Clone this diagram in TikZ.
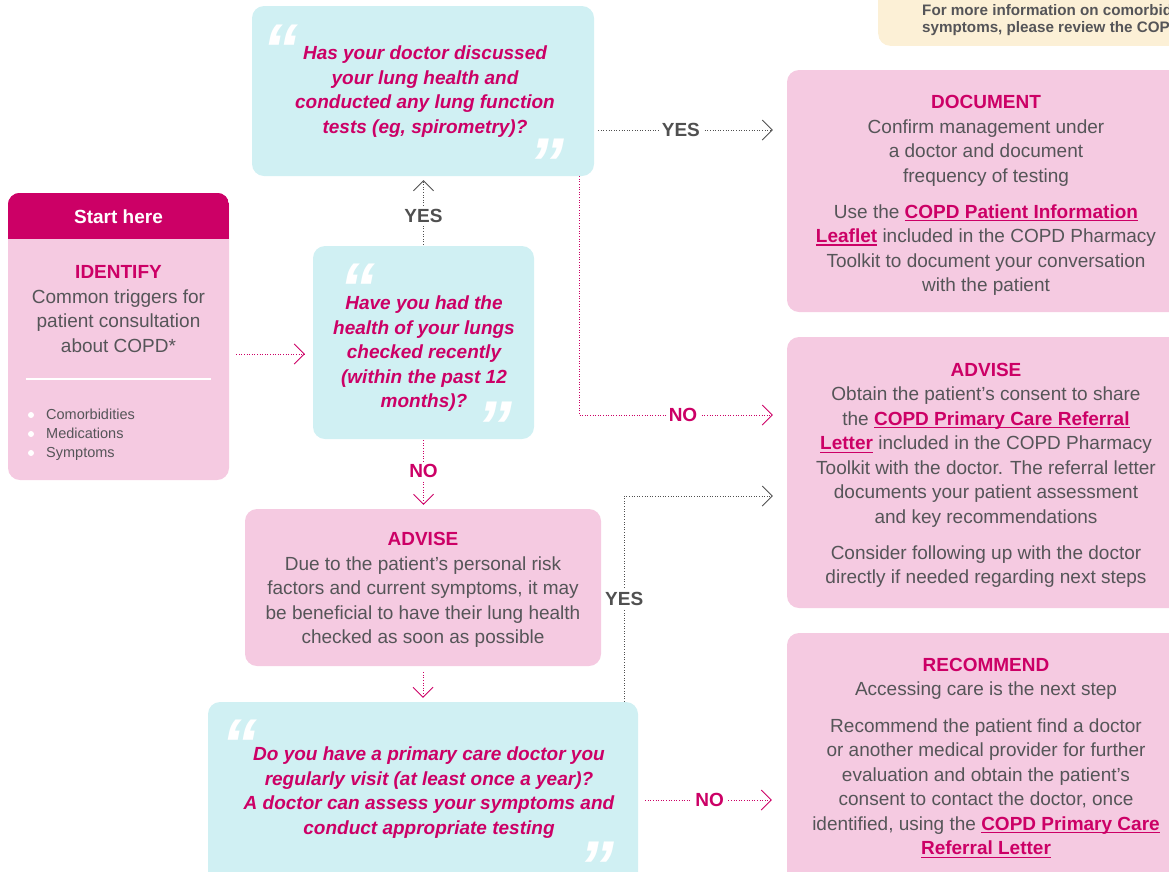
\documentclass[tikz,border=0pt]{standalone}
\usepackage{fontspec}
\setmainfont{Liberation Sans}
\usepackage{xcolor}
\usetikzlibrary{positioning,calc,arrows.meta}

\definecolor{copdmag}{RGB}{204,0,102}
\definecolor{copdpink}{RGB}{245,202,225}
\definecolor{copdcyan}{RGB}{208,240,243}
\definecolor{copdnote}{RGB}{252,240,214}
\definecolor{copdtext}{RGB}{85,85,88}
\definecolor{copdline}{RGB}{80,80,80}

\newsavebox{\copdulbox}
\newcommand{\copdul}[1]{\sbox{\copdulbox}{#1}\rlap{\rule[-3pt]{\wd\copdulbox}{1.3pt}}\usebox{\copdulbox}}
\newcommand{\stephead}[1]{{\bfseries\color{copdmag}#1}}
\newcommand{\copdlink}[1]{{\bfseries\color{copdmag}\copdul{#1}}}

\begin{document}
\begin{tikzpicture}[x=1pt, y=-1pt, >={Straight Barb[length=10pt,width=20pt]},
    box/.style={rounded corners=12pt, inner sep=0pt},
    pinkbox/.style={box, fill=copdpink},
    cyanbox/.style={box, fill=copdcyan},
    bodytext/.style={font=\fontsize{19}{24.5}\selectfont, text=copdtext, align=center, inner sep=0pt},
    asktext/.style={font=\fontsize{19}{24.5}\selectfont\bfseries\itshape, text=copdmag, align=center, inner sep=0pt},
    quotemark/.style={font=\fontsize{72}{72}\selectfont\bfseries\itshape, text=white, inner sep=0pt, anchor=north},
    flow/.style={->, line width=0.8pt, dash pattern=on 0.8pt off 1.8pt},
    magflow/.style={flow, draw=copdmag},
    grayflow/.style={flow, draw=copdline},
    answer/.style={font=\fontsize{19}{19}\selectfont\bfseries, fill=white, inner sep=3pt}]
    \useasboundingbox (0,0) rectangle (1169,871);
    \clip (0,0) rectangle (1169,871);

    % note at the top right
    \node[box, fill=copdnote, minimum width=380pt, minimum height=80pt, anchor=south west] (note) at (878,46) {};
    \node[font=\fontsize{15.2}{17}\selectfont\bfseries, text=copdtext, align=left, anchor=west, inner sep=0pt] (notetxt) at (922,20.5)
        {For more information on comorbidities\\symptoms, please review the COPD};

    % start box
    \node[pinkbox, minimum width=221pt, minimum height=287pt] (start) at (118.5,336.5) {};
    \begin{scope}
        \clip[rounded corners=12pt] (start.north west) rectangle (start.south east);
        \fill[copdmag] (start.north west) rectangle ([yshift=-46pt]start.north east);
    \end{scope}
    \node[font=\fontsize{19}{19}\selectfont\bfseries, text=white] (starthead) at (118.5,217) {Start here};
    \node[bodytext] (identify) at (118.5,309) {\stephead{IDENTIFY}\\Common triggers for\\patient consultation\\about COPD*};
    \draw[white, line width=1.5pt] (26,379) -- (211,379);
    \node[font=\fontsize{14.5}{19}\selectfont, text=copdtext, align=left, anchor=west, inner sep=0pt] (triggers) at (46,435)
        {Comorbidities\\Medications\\Symptoms};
    \foreach \y in {415,434,453} \fill[white] (31,\y) circle (3pt);

    % questions
    \node[cyanbox, minimum width=342pt, minimum height=170pt] (q1) at (423,91) {};
    \node[asktext] (q1txt) at (425,91.5) {Has your doctor discussed\\your lung health and\\conducted any lung function\\tests (eg, spirometry)?};
    \node[quotemark] at (280,25) {“};
    \node[quotemark] at (546,139) {”};

    \node[cyanbox, minimum width=221pt, minimum height=193pt] (q2) at (423.5,342.5) {};
    \node[asktext] (q2txt) at (424,354) {Have you had the\\health of your lungs\\checked recently\\(within the past 12\\months)?};
    \node[quotemark] at (357,264) {“};
    \node[quotemark] at (494,402) {”};

    \node[pinkbox, minimum width=356pt, minimum height=157pt] (advL) at (423,587.5) {};
    \node[bodytext] (advLtxt) at (423,590) {\stephead{ADVISE}\\Due to the patient’s personal risk\\factors and current symptoms, it may\\be beneficial to have their lung health\\checked as soon as possible};

    \node[cyanbox, minimum width=430pt, minimum height=196pt] (q3) at (423,800) {};
    \node[asktext] (q3txt) at (429,792.5) {Do you have a primary care doctor you\\regularly visit (at least once a year)?\\A doctor can assess your symptoms and\\conduct appropriate testing};
    \node[quotemark] at (239,720) {“};
    \node[quotemark] at (596,842) {”};

    % outcomes on the right
    \node[pinkbox, minimum width=398pt, minimum height=242pt] (doc) at (986,191) {};
    \node[bodytext] (doctxt) at (986,195.5) {\stephead{DOCUMENT}\\Confirm management under\\a doctor and document\\frequency of testing\\[11.5pt]Use the \copdlink{COPD Patient Information}\\\copdlink{Leaflet} included in the COPD Pharmacy\\Toolkit to document your conversation\\with the patient};

    \node[pinkbox, minimum width=398pt, minimum height=271pt] (advR) at (986,472.5) {};
    \node[bodytext] (advRtxt) at (986,475.5) {\stephead{ADVISE}\\Obtain the patient’s consent to share\\the \copdlink{COPD Primary Care Referral}\\\copdlink{Letter} included in the COPD Pharmacy\\Toolkit with the doctor. The referral letter\\documents your patient assessment\\and key recommendations\\[11.5pt]Consider following up with the doctor\\directly if needed regarding next steps};

    \node[pinkbox, minimum width=398pt, minimum height=267pt] (rec) at (986,766.5) {};
    \node[bodytext] (rectxt) at (986,758) {\stephead{RECOMMEND}\\Accessing care is the next step\\[12pt]Recommend the patient find a doctor\\or another medical provider for further\\evaluation and obtain the patient’s\\consent to contact the doctor, once\\identified, using the \copdlink{COPD Primary Care}\\\copdlink{Referral Letter}};

    % connectors
    \draw[magflow, shorten <=7pt, shorten >=8pt] (start.east |- q2txt) -- (q2.west |- q2txt);
    \draw[grayflow, shorten <=1pt, shorten >=4pt] (q2.north) -- (q2.north |- q1.south) node[answer, text=copdline, pos=0.43] {YES};
    \draw[grayflow, shorten <=4pt, shorten >=14pt] ([yshift=-39pt]q1.east) -- ([yshift=-39pt]q1.east -| doc.west) node[answer, text=copdline, pos=0.45] {YES};
    \draw[magflow, shorten >=14pt] ([xshift=-15pt]q1.south east) |- ([yshift=57.5pt]advR.west) node[answer, text=copdmag, pos=0.75] {NO};
    \draw[magflow, shorten <=1pt, shorten >=4pt] (q2.south) -- (q2.south |- advL.north) node[answer, text=copdmag, pos=0.46] {NO};
    \draw[magflow, shorten <=6pt, shorten >=4pt] (advL.south) -- (q3.north);
    \draw[grayflow, shorten >=14pt] ([xshift=-14pt]q3.north east) |- ([yshift=-23.5pt]advR.west) node[answer, text=copdline, pos=0.25] {YES};
    \draw[magflow, shorten <=7pt, shorten >=15pt] (q3.east) -- (q3.east -| rec.west) node[answer, text=copdmag, pos=0.48] {NO};
\end{tikzpicture}
\end{document}
